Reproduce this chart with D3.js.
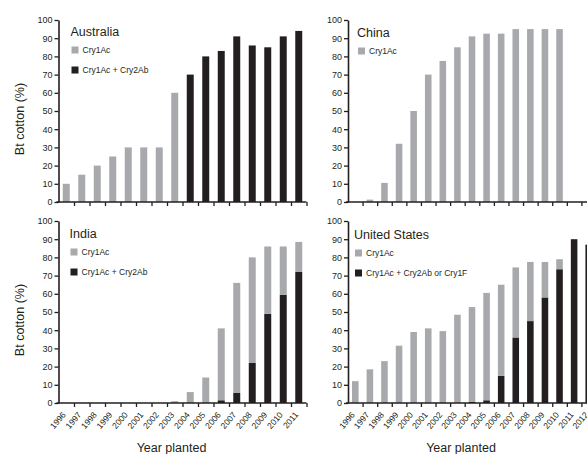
<!DOCTYPE html>
<html>
<head>
<meta charset="utf-8">
<script src="https://cdn.jsdelivr.net/npm/d3@7"></script>
<style>
  html, body { margin: 0; padding: 0; background: #fff; }
  svg { display: block; font-family: "Liberation Sans", Arial, Helvetica, sans-serif; }
</style>
</head>
<body>
<svg id="chart" width="587" height="454"></svg>
<script>
// Adoption of Bt cotton (% of cotton area) by year planted
const yearsShort = ['1996','1997','1998','1999','2000','2001','2002','2003','2004','2005','2006','2007','2008','2009','2010','2011'];
const yearsLong = yearsShort.concat(['2012']);

const australiaCry1Ac = [10, 15, 20, 25, 30, 30, 30, 60, 0, 0, 0, 0, 0, 0, 0, 0];
const australiaDual   = [0, 0, 0, 0, 0, 0, 0, 0, 70, 80, 83, 91, 86, 85, 91, 94];

const chinaCry1Ac = [0, 1.3, 10.5, 32, 50, 70, 77.5, 85, 91, 92.5, 92.5, 95, 95, 95, 95, 0, 0];

const indiaCry1Ac = [0, 0, 0, 0, 0, 0, 0, 1, 6, 14, 39.5, 60.5, 58, 37, 26.5, 16.5];
const indiaDual   = [0, 0, 0, 0, 0, 0, 0, 0, 0, 0, 1.5, 5.5, 22, 49, 59.5, 72];

const usCry1Ac = [12, 18.5, 23, 31.5, 39, 41, 39.5, 48.5, 52, 59, 50, 38.5, 32.5, 19.5, 5.5, 0, 0];
const usDual   = [0, 0, 0, 0, 0, 0, 0, 0, 0.7, 1.5, 15, 36, 45, 58, 73.5, 90, 87];

const yTicks = [0, 10, 20, 30, 40, 50, 60, 70, 80, 90, 100];

const GRAY = '#a7a9ac';
const BLACK = '#231f20';

// Panel layout
const panels = [
  { title: 'Australia', years: yearsShort, x0: 58.5, y0: 202, y1: 20,
    series: [{ key: 'dual', label: 'Cry1Ac + Cry2Ab', color: BLACK, values: australiaDual },
             { key: 'single', label: 'Cry1Ac', color: GRAY, values: australiaCry1Ac }],
    legendOrder: ['single', 'dual'], tx: 12, ty: 16, xLabels: false, yTitle: true },
  { title: 'China', years: yearsLong, x0: 348, y0: 202, y1: 20,
    series: [{ key: 'single', label: 'Cry1Ac', color: GRAY, values: chinaCry1Ac }],
    legendOrder: ['single'], tx: 9, ty: 17, xLabels: false, yTitle: false },
  { title: 'India', years: yearsShort, x0: 58.5, y0: 403, y1: 221,
    series: [{ key: 'dual', label: 'Cry1Ac + Cry2Ab', color: BLACK, values: indiaDual },
             { key: 'single', label: 'Cry1Ac', color: GRAY, values: indiaCry1Ac }],
    legendOrder: ['single', 'dual'], tx: 11, ty: 17, xLabels: true, yTitle: true },
  { title: 'United States', years: yearsLong, x0: 348, y0: 403, y1: 221,
    series: [{ key: 'dual', label: 'Cry1Ac + Cry2Ab or Cry1F', color: BLACK, values: usDual },
             { key: 'single', label: 'Cry1Ac', color: GRAY, values: usCry1Ac }],
    legendOrder: ['single', 'dual'], tx: 6, ty: 18, xLabels: true, yTitle: false }
];

const svg = d3.select('#chart');
const AXIS_LEN = 248; // x-axis length of every panel

panels.forEach(p => {
  const n = p.years.length;
  const g = svg.append('g');

  const x = d3.scaleBand().domain(p.years)
    .range([p.x0, p.x0 + AXIS_LEN])
    .paddingInner(0.55).paddingOuter(0.275);
  const xb = d3.scaleLinear().domain([0, n]).range([p.x0, p.x0 + AXIS_LEN]);
  const y = d3.scaleLinear().domain([0, 100]).range([p.y0, p.y1]);

  // stacked bars
  const rows = p.years.map((yr, i) => {
    const r = { year: yr };
    p.series.forEach(s => { r[s.key] = s.values[i] || 0; });
    return r;
  });
  const stack = d3.stack().keys(p.series.map(s => s.key))(rows);
  stack.forEach((layer, li) => {
    g.append('g').attr('fill', p.series[li].color)
      .selectAll('rect').data(layer.filter(d => d[1] - d[0] > 0)).join('rect')
      .attr('x', d => x(d.data.year))
      .attr('width', x.bandwidth())
      .attr('y', d => y(d[1]))
      .attr('height', d => y(d[0]) - y(d[1]));
  });

  // y axis
  const ya = g.append('g').attr('transform', `translate(${p.x0},0)`)
    .call(d3.axisLeft(y).tickValues(yTicks).tickSize(4).tickSizeOuter(0).tickPadding(2));
  ya.select('.domain').attr('stroke', BLACK).attr('stroke-width', 1.6);
  ya.selectAll('.tick line').attr('stroke', BLACK).attr('stroke-width', 1.3);
  ya.selectAll('.tick text').attr('fill', BLACK).attr('font-size', 9)
    .attr('font-family', '"Liberation Sans", Arial, sans-serif');

  // x axis: ticks on the boundaries between years
  const xa = g.append('g').attr('transform', `translate(0,${p.y0})`)
    .call(d3.axisBottom(xb).tickValues(d3.range(1, n + 1)).tickSize(4).tickSizeOuter(0).tickFormat(''));
  xa.select('.domain').attr('stroke', BLACK).attr('stroke-width', 1.6)
    .attr('d', `M${p.x0 - 2},0H${p.x0 + AXIS_LEN}`);
  xa.selectAll('.tick line').attr('stroke', BLACK).attr('stroke-width', 1.3);

  // year labels
  if (p.xLabels) {
    const xl = g.append('g').attr('transform', `translate(0,${p.y0})`)
      .call(d3.axisBottom(x).tickSize(0).tickSizeOuter(0));
    xl.select('.domain').remove();
    xl.selectAll('.tick text')
      .attr('fill', BLACK).attr('font-size', 8.5)
      .attr('text-anchor', 'end')
      .attr('dy', 0).attr('y', 0)
      .attr('transform', 'translate(0,12) rotate(-50)');
    g.append('text')
      .attr('x', p.x0 + AXIS_LEN / 2 - 11).attr('y', 452)
      .attr('text-anchor', 'middle').attr('font-size', 12.5).attr('fill', BLACK)
      .text('Year planted');
  }

  if (p.yTitle) {
    g.append('text')
      .attr('transform', `translate(24,${(p.y0 + p.y1) / 2 + 8}) rotate(-90)`)
      .attr('text-anchor', 'middle').attr('font-size', 12.5).attr('fill', BLACK)
      .text('Bt cotton (%)');
  }

  // title + legend
  const lx = p.x0 + p.tx, ly = p.y1 + p.ty;
  g.append('text').attr('x', lx).attr('y', ly)
    .attr('font-size', 12.5).attr('fill', BLACK).text(p.title);
  p.legendOrder.forEach((k, i) => {
    const s = p.series.find(d => d.key === k);
    const cy = ly + 14 + i * 20;
    g.append('rect').attr('x', lx + 1).attr('y', cy - 3.5).attr('width', 7).attr('height', 7).attr('fill', s.color);
    g.append('text').attr('x', lx + 12).attr('y', cy + 3)
      .attr('font-size', 8.5).attr('fill', BLACK).text(s.label);
  });
});
</script>
</body>
</html>
